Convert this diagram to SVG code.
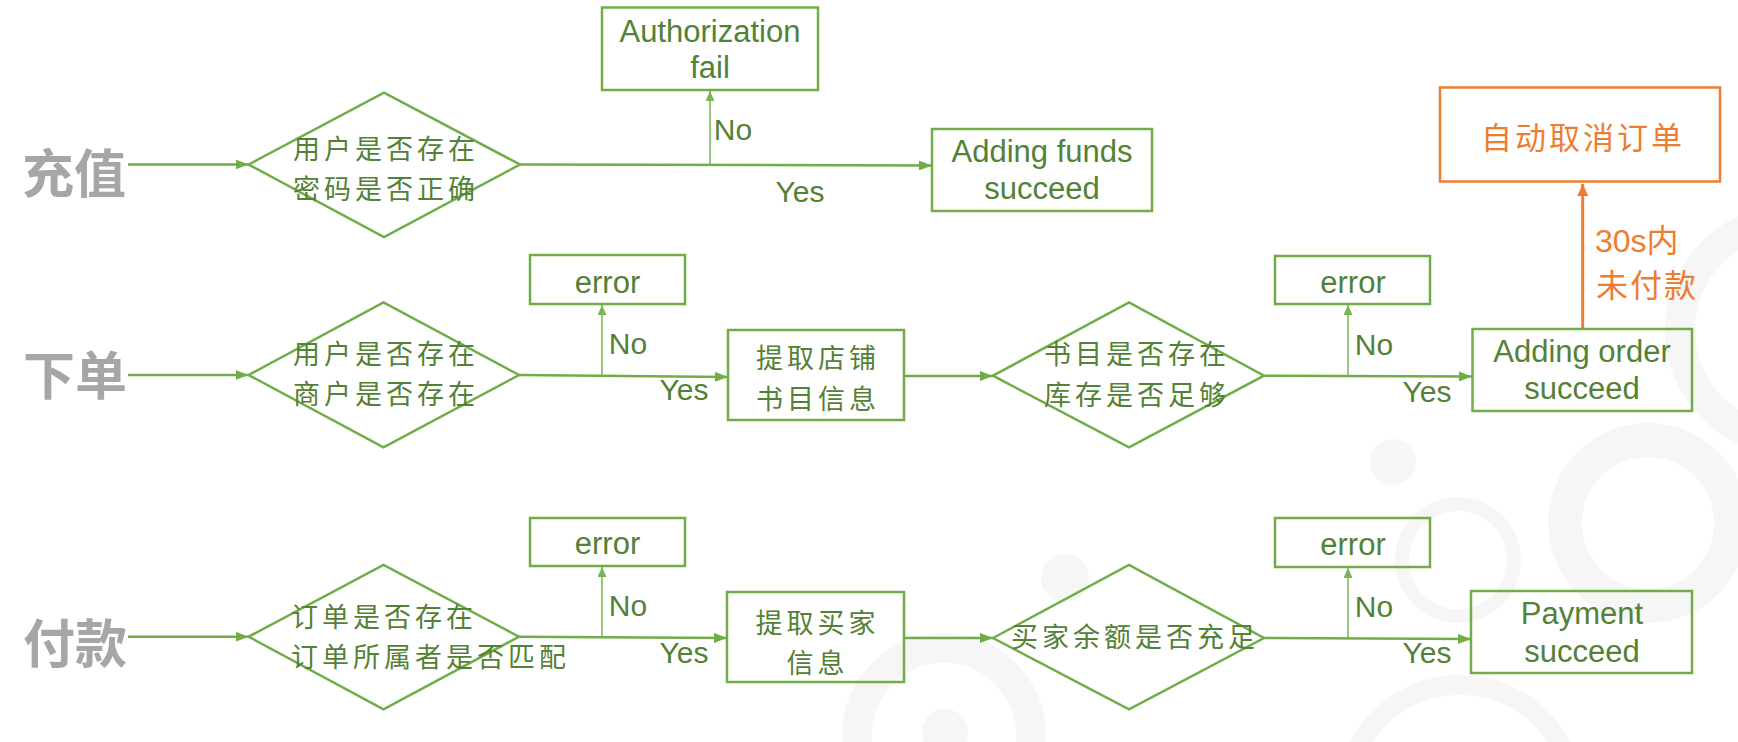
<svg xmlns="http://www.w3.org/2000/svg" width="1738" height="742" viewBox="0 0 1738 742">
<style>
.bg{fill:none;stroke:#f6f6f6}
.bgf{fill:#f6f6f6}
.shape{fill:none;stroke:#70AD47;stroke-width:2.5}
.oshape{fill:none;stroke:#ED7D31;stroke-width:2.5}
.line{fill:none;stroke:#70AD47;stroke-width:2.5}
.thin{fill:none;stroke:#79B552;stroke-width:1.5}
.oline{fill:none;stroke:#ED7D31;stroke-width:3}
.en{font-family:"Liberation Sans",Arial,sans-serif;font-size:31px;fill:#538135;text-anchor:middle}
.lbl{font-family:"Liberation Sans",Arial,sans-serif;font-size:30px;fill:#538135;text-anchor:middle}
.cn{font-family:"Noto Sans CJK SC",sans-serif;font-size:27px;letter-spacing:4px;fill:#538135;dominant-baseline:central}
.title{font-family:"Noto Sans CJK SC",sans-serif;font-size:52px;font-weight:bold;fill:#A6A6A6;text-anchor:middle;dominant-baseline:central}
.or{font-family:"Liberation Sans","Noto Sans CJK SC",sans-serif;fill:#ED7D31;dominant-baseline:central}
</style>
<defs>
<marker id="arr" markerUnits="userSpaceOnUse" markerWidth="13" markerHeight="10" refX="13" refY="5" orient="auto">
<path d="M0,0 L13,5 L0,10 z" fill="#70AD47"/>
</marker>
<marker id="arrs" markerUnits="userSpaceOnUse" markerWidth="10" markerHeight="9" refX="10" refY="4.5" orient="auto">
<path d="M0,0 L10,4.5 L0,9 z" fill="#79B552"/>
</marker>
<marker id="arro" markerUnits="userSpaceOnUse" markerWidth="12" markerHeight="11" refX="12" refY="5.5" orient="auto">
<path d="M0,0 L12,5.5 L0,11 z" fill="#ED7D31"/>
</marker>
</defs>

<g id="background">
<circle class="bg" cx="1648" cy="523" r="83" stroke-width="34"/>
<circle class="bg" cx="1458" cy="560" r="56" stroke-width="14"/>
<circle class="bg" cx="944" cy="735" r="87" stroke-width="30"/>
<circle class="bg" cx="1460" cy="800" r="115" stroke-width="20"/>
<circle class="bg" cx="1790" cy="330" r="110" stroke-width="30"/>
<circle class="bgf" cx="1393" cy="462" r="23"/>
<circle class="bgf" cx="1065" cy="578" r="24"/>
<circle class="bgf" cx="945" cy="732" r="23"/>
</g>

<g id="row-labels">
<text class="title" x="74" y="170">充值</text>
<text class="title" x="75" y="372">下单</text>
<text class="title" x="75" y="640">付款</text>
</g>

<g id="connectors">
<line class="line" x1="128" y1="164.5" x2="248.6" y2="164.5" marker-end="url(#arr)"/>
<line class="line" x1="520" y1="164.5" x2="932" y2="165.5" marker-end="url(#arr)"/>
<line class="thin" x1="710" y1="165" x2="710" y2="91" marker-end="url(#arrs)"/>

<line class="line" x1="128" y1="375" x2="248.6" y2="375" marker-end="url(#arr)"/>
<line class="line" x1="519" y1="375" x2="728" y2="377" marker-end="url(#arr)"/>
<line class="thin" x1="602" y1="375.5" x2="602" y2="305" marker-end="url(#arrs)"/>
<line class="line" x1="904" y1="376" x2="993" y2="376" marker-end="url(#arr)"/>
<line class="line" x1="1264" y1="375.7" x2="1472" y2="376.5" marker-end="url(#arr)"/>
<line class="thin" x1="1348" y1="376" x2="1348" y2="305" marker-end="url(#arrs)"/>
<line class="oline" x1="1582.7" y1="329" x2="1582.7" y2="184" marker-end="url(#arro)"/>

<line class="line" x1="128" y1="636.7" x2="248.6" y2="636.7" marker-end="url(#arr)"/>
<line class="line" x1="519" y1="636.7" x2="727" y2="638" marker-end="url(#arr)"/>
<line class="thin" x1="602" y1="637" x2="602" y2="567" marker-end="url(#arrs)"/>
<line class="line" x1="904" y1="638" x2="993" y2="638" marker-end="url(#arr)"/>
<line class="line" x1="1264" y1="638" x2="1471" y2="639" marker-end="url(#arr)"/>
<line class="thin" x1="1348" y1="638.5" x2="1348" y2="568" marker-end="url(#arrs)"/>

<text class="lbl" x="733" y="140">No</text>
<text class="lbl" x="800" y="201.5">Yes</text>
<text class="lbl" x="628" y="354">No</text>
<text class="lbl" x="684" y="400">Yes</text>
<text class="lbl" x="1374" y="355">No</text>
<text class="lbl" x="1427" y="401.5">Yes</text>
<text class="lbl" x="628" y="616">No</text>
<text class="lbl" x="684" y="662.5">Yes</text>
<text class="lbl" x="1374" y="617">No</text>
<text class="lbl" x="1427" y="662.5">Yes</text>
<text class="or" font-size="32"><tspan x="1595" y="241">30s内</tspan><tspan x="1596" y="283" font-size="32" font-family="Noto Sans CJK SC, sans-serif" letter-spacing="2">未付款</tspan></text>
</g>

<g id="check-user-password">
<polygon class="shape" points="248.6,164.5 384,92.7 520,164.5 384,237"/>
<text class="cn" text-anchor="middle"><tspan x="386" y="146.5">用户是否存在</tspan><tspan x="386" y="186.5">密码是否正确</tspan></text>
</g>

<g id="authorization-fail">
<rect class="shape" x="602" y="7.5" width="216" height="82.5"/>
<text class="en"><tspan x="710" y="41.7">Authorization</tspan><tspan x="710" y="78.3">fail</tspan></text>
</g>

<g id="adding-funds-succeed">
<rect class="shape" x="932" y="129" width="220" height="82"/>
<text class="en"><tspan x="1042" y="162">Adding funds</tspan><tspan x="1042" y="199">succeed</tspan></text>
</g>

<g id="check-user-shop">
<polygon class="shape" points="248.6,375 383.5,302.3 519,375 383.5,447.3"/>
<text class="cn" text-anchor="middle"><tspan x="386" y="352">用户是否存在</tspan><tspan x="386" y="392">商户是否存在</tspan></text>
</g>

<g id="error-1">
<rect class="shape" x="530" y="255" width="155" height="49"/>
<text class="en" x="607.5" y="292.7">error</text>
</g>

<g id="fetch-shop-books">
<rect class="shape" x="728" y="330" width="176" height="90"/>
<text class="cn" text-anchor="middle"><tspan x="818" y="356">提取店铺</tspan><tspan x="818" y="396.5">书目信息</tspan></text>
</g>

<g id="check-books-stock">
<polygon class="shape" points="993,375.7 1129,302.3 1264,375.7 1129,447.3"/>
<text class="cn" text-anchor="middle"><tspan x="1137" y="352">书目是否存在</tspan><tspan x="1137" y="392.5">库存是否足够</tspan></text>
</g>

<g id="error-2">
<rect class="shape" x="1275" y="256" width="155" height="48"/>
<text class="en" x="1353" y="293">error</text>
</g>

<g id="adding-order-succeed">
<rect class="shape" x="1472.5" y="329" width="219.5" height="82"/>
<text class="en"><tspan x="1582" y="361.7">Adding order</tspan><tspan x="1582" y="399">succeed</tspan></text>
</g>

<g id="auto-cancel-order">
<rect class="oshape" x="1440" y="87.5" width="280" height="94"/>
<text class="or" x="1583" y="138" font-size="31" font-family="Noto Sans CJK SC, sans-serif" text-anchor="middle" letter-spacing="3">自动取消订单</text>
</g>

<g id="check-order-owner">
<polygon class="shape" points="248.6,636.7 383.5,565 519,636.7 383.5,709.3"/>
<text class="cn"><tspan x="291" y="615">订单是否存在</tspan><tspan x="291" y="655">订单所属者是否匹配</tspan></text>
</g>

<g id="error-3">
<rect class="shape" x="530" y="518" width="155" height="48"/>
<text class="en" x="607.5" y="554">error</text>
</g>

<g id="fetch-buyer-info">
<rect class="shape" x="727" y="592" width="177" height="90"/>
<text class="cn" text-anchor="middle"><tspan x="817.5" y="621">提取买家</tspan><tspan x="817.5" y="661">信息</tspan></text>
</g>

<g id="check-balance">
<polygon class="shape" points="993,638 1129,565 1264,638 1129,709.3"/>
<text class="cn" x="1011" y="635" letter-spacing="4.5">买家余额是否充足</text>
</g>

<g id="error-4">
<rect class="shape" x="1275" y="518" width="155" height="49"/>
<text class="en" x="1353" y="554.7">error</text>
</g>

<g id="payment-succeed">
<rect class="shape" x="1471" y="591" width="221" height="82"/>
<text class="en"><tspan x="1582" y="624">Payment</tspan><tspan x="1582" y="661.7">succeed</tspan></text>
</g>
</svg>
